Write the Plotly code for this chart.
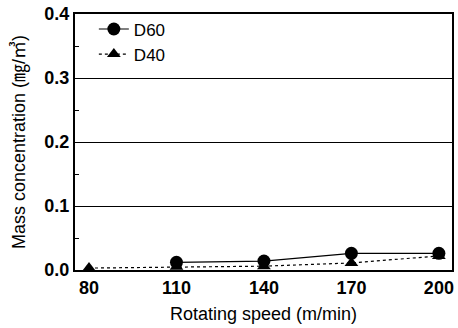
import plotly.graph_objects as go

speeds = ["80", "110", "140", "170", "200"]
d60 = [None, 0.012, 0.014, 0.026, 0.026]
d40 = [0.003, 0.005, 0.006, 0.011, 0.022]
y_range = [0, 0.4]
y_step = 0.1

fig = go.Figure()
fig.add_trace(go.Scatter(x=speeds, y=d60, name="D60", mode="lines+markers",
                         line=dict(color="black", width=1.2),
                         marker=dict(symbol="circle", size=13, color="black"),
                         connectgaps=True))
fig.add_trace(go.Scatter(x=speeds, y=d40, name="D40", mode="lines+markers",
                         line=dict(color="black", width=1.2, dash="dot"),
                         marker=dict(symbol="triangle-up", size=12, color="black")))

fig.update_layout(
    width=458, height=328,
    margin=dict(l=75, r=4, t=9, b=58),
    paper_bgcolor="white", plot_bgcolor="white",
    font=dict(family="Liberation Sans, Arial, Noto Sans CJK KR, sans-serif", color="black", size=18),
    showlegend=True,
    legend=dict(x=0.05, y=1.01, xanchor="left", yanchor="top",
                bgcolor="rgba(0,0,0,0)", font=dict(size=17),
                itemwidth=30, tracegroupgap=0),
    annotations=[dict(text="Rotating speed (m/min)", xref="paper", yref="paper",
                      x=0.5, y=-0.172, xanchor="center", yanchor="middle",
                      showarrow=False, font=dict(size=18))],
)
fig.update_xaxes(type="category", range=[-0.16, 4.15],
                 showline=True, linecolor="black", linewidth=2, mirror=True,
                 ticks="", showgrid=False,
                 tickfont=dict(size=18, weight="bold"))
fig.update_yaxes(range=y_range, tick0=0, dtick=y_step, tickformat=".1f",
                 ticklabeloverflow="allow",
                 showline=True, linecolor="black", linewidth=2, mirror=True,
                 ticks="inside", ticklen=5, tickcolor="black",
                 minor=dict(dtick=y_step / 2, ticks="inside", ticklen=4, tickcolor="black", showgrid=False),
                 showgrid=True, gridcolor="black", gridwidth=1,
                 zeroline=False,
                 tickfont=dict(size=18, weight="bold"),
                 title=dict(text="Mass concentration (㎎/㎥)", font=dict(size=18), standoff=14))

fig.write_html("out.html")
